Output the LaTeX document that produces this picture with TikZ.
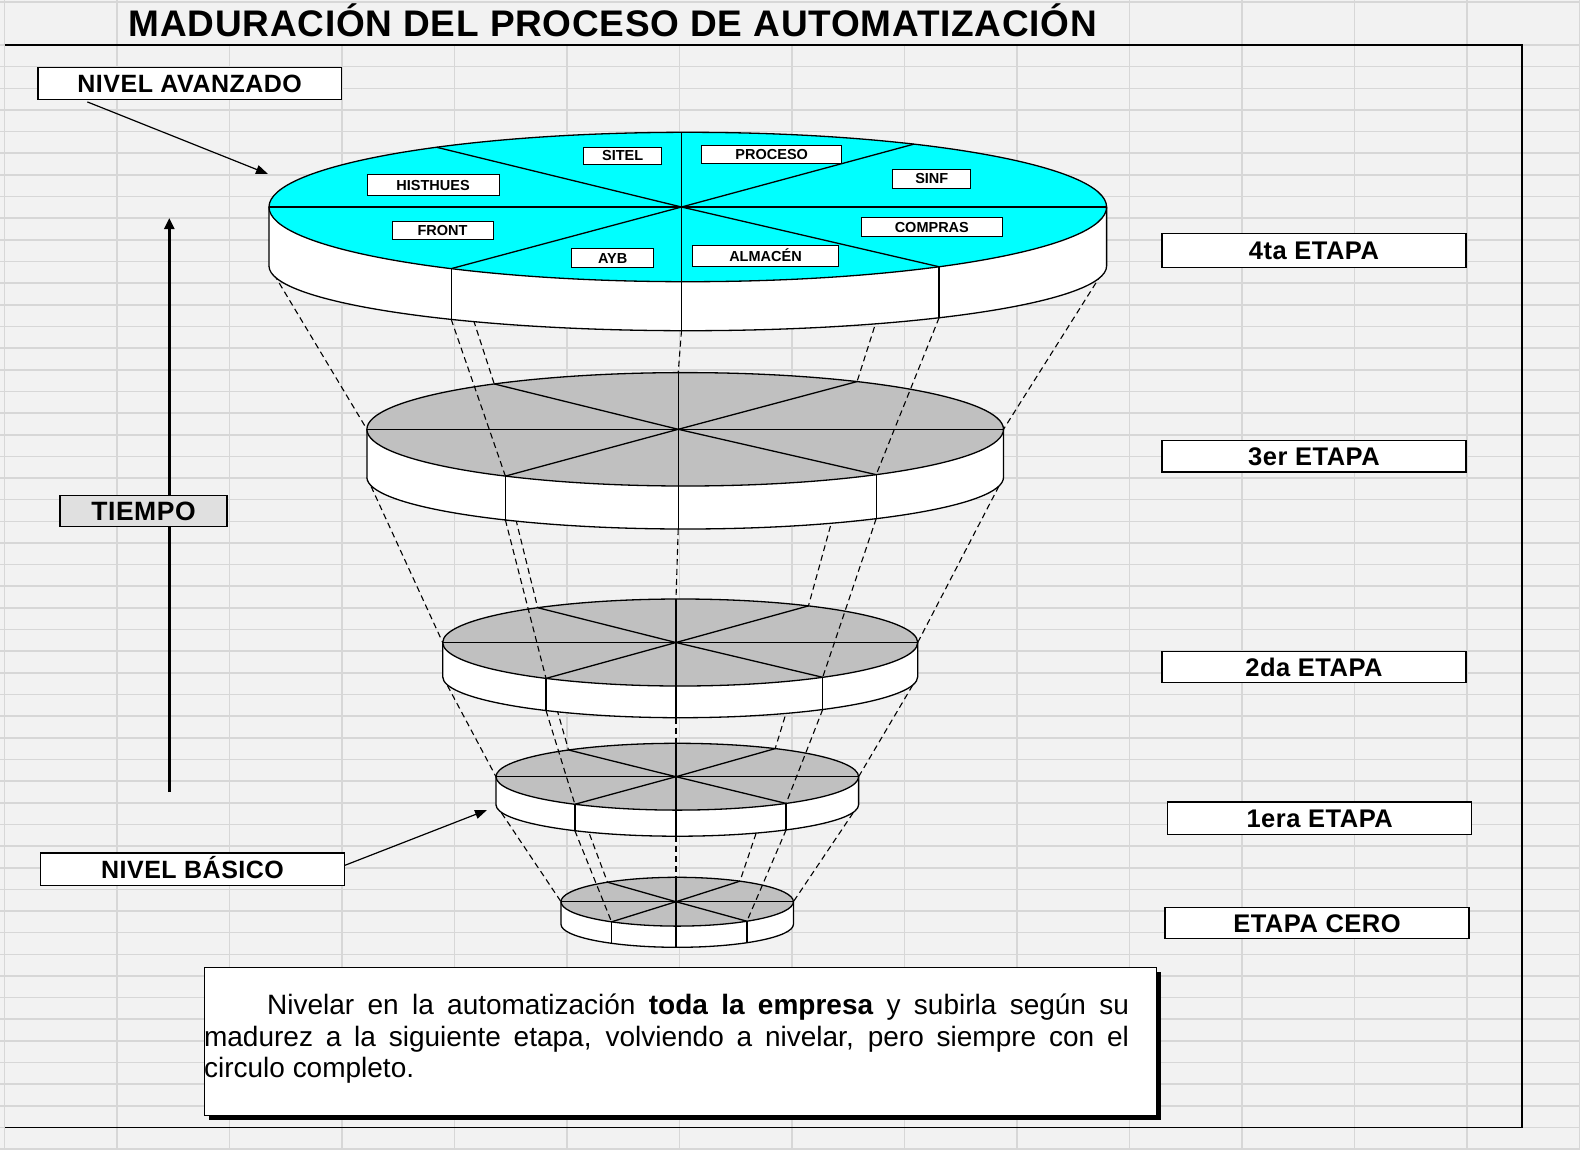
\documentclass[tikz,border=0pt]{standalone}
\usepackage{fontspec}
\setmainfont{Liberation Sans}
\newfontfamily\lbl[LetterSpace=2]{Liberation Sans}
\newfontfamily\ttl[LetterSpace=2]{Liberation Sans}
\usetikzlibrary{calc,arrows.meta}
\definecolor{bgc}{HTML}{F2F2F2}
\definecolor{gridc}{HTML}{D7D7D7}
\definecolor{cyanc}{HTML}{00FFFF}
\definecolor{grayc}{HTML}{C0C0C0}
\definecolor{tiempoc}{HTML}{E0E0E0}

% #1 name, #2 cx, #3 cy, #4 rx, #5 ry, #6 side height, #7 bottom y-radius, #8 spoke centre x
\newcommand\discdef[8]{%
  \coordinate (#1c) at (#2,#3);
  \coordinate (#1b) at (#2,#3+#6);
  \coordinate (#1L) at (#2-#4,#3);
  \coordinate (#1R) at (#2+#4,#3);
  \coordinate (#1Lb) at (#2-#4,#3+#6);
  \coordinate (#1Rb) at (#2+#4,#3+#6);
  \coordinate (#1S) at (#8,#3);
  \coordinate (#1T) at (#8,#3-#5);
  \coordinate (#1B) at (#8,#3+#6+#7);
  \coordinate (#1UL) at ($(#1c)+(233.13:#4 and #5)$);
  \coordinate (#1UR) at ($(#1c)+(302.68:#4 and #5)$);
  \coordinate (#1LL) at ($(#1c)+(124.4:#4 and #5)$);
  \coordinate (#1LR) at ($(#1c)+(53.13:#4 and #5)$);
  \coordinate (#1ULb) at ($(#1b)+(233.13:#4 and #5)$);
  \coordinate (#1URb) at ($(#1b)+(302.68:#4 and #5)$);
  \coordinate (#1LLb) at ($(#1b)+(124.4:#4 and #7)$);
  \coordinate (#1LRb) at ($(#1b)+(53.13:#4 and #7)$);
}
% #1 name, #2 rx, #3 ry, #4 bottom y-radius, #5 fill
\newcommand\discdraw[5]{%
  \draw[discline, fill=white] (#1L) -- (#1Lb) arc[start angle=180, end angle=0, x radius=#2, y radius=#4] -- (#1R) -- cycle;
  \draw[discline, fill=#5] (#1c) ellipse[x radius=#2, y radius=#3];
  \draw[discline] (#1L) -- (#1R);
  \draw[discline] (#1UL) -- (#1S) -- (#1LR);
  \draw[discline] (#1UR) -- (#1S) -- (#1LL);
  \draw[discline] (#1T) -- (#1B);
  \draw[discline] (#1LL) -- (#1LLb);
  \draw[discline] (#1LR) -- (#1LRb);
}
% dashed links from upper disc #1 to lower disc #2
\newcommand\discjoin[2]{%
  \draw[dashline] (#1Lb) -- (#2L);
  \draw[dashline] (#1Rb) -- (#2R);
  \draw[dashline] (#1ULb) -- (#2UL);
  \draw[dashline] (#1URb) -- (#2UR);
  \draw[dashline] (#1LLb) -- (#2LL);
  \draw[dashline] (#1LRb) -- (#2LR);
  \draw[dashline] (#1B) -- (#2T);
}

\begin{document}
\begin{tikzpicture}[x=1pt,y=-1pt,
  gridline/.style={gridc, line width=1.6pt},
  frameline/.style={black, line width=1.5pt},
  discline/.style={black, line width=1.3pt, line join=round},
  dashline/.style={black, line width=1.1pt, dash pattern=on 6pt off 4pt},
  boxlabel/.style={draw, fill=white, line width=1.2pt, inner sep=0pt,
     font=\lbl\bfseries\fontsize{25}{27}\selectfont, text height=17.9pt, text depth=0pt},
  stagelabel/.style={draw, fill=white, line width=1.2pt, inner sep=0pt, minimum width=304pt,
     font=\lbl\bfseries\fontsize{25.5}{27}\selectfont, text height=18.3pt, text depth=0pt},
  dlab/.style={draw, fill=white, line width=1pt, inner sep=0pt,
     font=\bfseries\fontsize{14.5}{14.5}\selectfont, text height=10.4pt, text depth=0pt},
  arr/.style={line width=1.2pt, -{Triangle[length=12pt,width=9pt]}},
  tarr/.style={line width=2.6pt, -{Triangle[length=11pt,width=10pt]}},
  notefont/.style={font=\fontsize{28}{31.5}\selectfont}
]
\useasboundingbox (0,0) rectangle (1580,1149);
% ---- spreadsheet background ----
\fill[bgc] (0,0) rectangle (1580,1149);
\draw[gridline] (0,2) -- (1580,2);
\foreach \j in {0,...,51} \draw[gridline] (0,45+21.65*\j) -- (1580,45+21.65*\j);
\foreach \k in {0,1,10,11,12,13,14} \draw[gridline] (4.5+112.5*\k,0) -- (4.5+112.5*\k,1149);
\foreach \k in {2,...,9} \draw[gridline] (4.5+112.5*\k,45) -- (4.5+112.5*\k,1149);
% ---- frame and title ----
\draw[frameline] (4.5,45) -- (1522,45) -- (1522,1127.5) -- (4.5,1127.5);
\node[anchor=base, inner sep=0pt, font=\ttl\bfseries\fontsize{37}{39}\selectfont] (title) at (613,36.5)
  {MADURACIÓN DEL PROCESO DE AUTOMATIZACIÓN};

% ---- disc geometry ----
\discdef{D4}{687.8}{207}{418.8}{74.7}{59}{64.7}{681.5}
\discdef{D3}{685.2}{429.3}{318.3}{56.7}{48}{51.7}{678.2}
\discdef{D2}{680.2}{642.5}{237.5}{43.5}{34.2}{41}{676}
\discdef{D1}{677.3}{776.7}{181.3}{33.4}{28}{31.5}{676}
\discdef{D0}{677.2}{901.7}{116.2}{24.4}{22.6}{23}{676}

% ---- discs, bottom to top, with dashed links ----
\discdraw{D0}{116.2}{24.4}{23}{grayc}
\discjoin{D1}{D0}
\discdraw{D1}{181.3}{33.4}{31.5}{grayc}
\discjoin{D2}{D1}
\discdraw{D2}{237.5}{43.5}{41}{grayc}
\discjoin{D3}{D2}
\discdraw{D3}{318.3}{56.7}{51.7}{grayc}
\discjoin{D4}{D3}
\discdraw{D4}{418.8}{74.7}{64.7}{cyanc}

% ---- labels on the top disc ----
\node[dlab, minimum width=78pt, minimum height=16.7pt] (sitel) at (622.7,155.7) {SITEL};
\node[dlab, minimum width=140pt, minimum height=18pt] (proceso) at (771.7,154.7) {PROCESO};
\node[dlab, minimum width=132pt, minimum height=21.4pt] (histhues) at (433.1,185) {HISTHUES};
\node[dlab, minimum width=78pt, minimum height=19.3pt] (sinf) at (931.8,178.7) {SINF};
\node[dlab, minimum width=101pt, minimum height=18pt] (front) at (442.5,230) {FRONT};
\node[dlab, minimum width=140.5pt, minimum height=19.4pt] (compras) at (931.8,227) {COMPRAS};
\node[dlab, minimum width=81.5pt, minimum height=18.3pt] (ayb) at (612.7,257.9) {AYB};
\node[dlab, minimum width=145.4pt, minimum height=21.4pt] (almacen) at (765.5,256) {ALMACÉN};

% ---- left side labels and arrows ----
\coordinate (tBot) at (169.3,792);
\coordinate (tTop) at (169.3,218);
\draw[tarr] (tBot) -- (tTop);
\node[boxlabel, fill=tiempoc, minimum width=167pt, minimum height=31pt,
      font=\lbl\bfseries\fontsize{26.5}{28}\selectfont, text height=19pt] (tiempo) at (143.5,511.2) {TIEMPO};

\node[boxlabel, minimum width=303.5pt, minimum height=32pt] (avz) at (189.7,83.3) {NIVEL AVANZADO};
\coordinate (avzTip) at (268,174);
\draw[arr] ($(avz.south west)+(50,2)$) -- (avzTip);

\node[boxlabel, minimum width=303.6pt, minimum height=32.7pt] (bas) at (192.5,869.3) {NIVEL BÁSICO};
\coordinate (basTip) at (487,810);
\draw[arr] ($(bas.east)+(0,-4)$) -- (basTip);

% ---- stage labels ----
\node[stagelabel, minimum height=33.5pt] (e4) at (1313.9,250.5) {4ta ETAPA};
\node[stagelabel, minimum height=31.6pt] (e3) at (1314,456.2) {3er ETAPA};
\node[stagelabel, minimum height=31.2pt] (e2) at (1314,667.2) {2da ETAPA};
\node[stagelabel, minimum height=32.3pt] (e1) at (1319.7,818.2) {1era ETAPA};
\node[stagelabel, minimum height=31pt] (e0) at (1317,923) {ETAPA CERO};

% ---- note box ----
\fill[black] (209,972) rectangle (1161,1120);
\node[draw, fill=white, line width=1.3pt, anchor=north west, inner sep=0pt,
      minimum width=952pt, minimum height=148.3pt] (note) at (203.9,966.7) {};
\node[notefont, anchor=base west, inner sep=0pt] (l1) at (267,1014.7)
  {\makebox[861.8pt][s]{Nivelar en la automatización \textbf{toda la empresa} y subirla según su}};
\node[notefont, anchor=base west, inner sep=0pt] (l2) at (203.9,1046.2)
  {\makebox[924.9pt][s]{madurez a la siguiente etapa, volviendo a nivelar, pero siempre con el}};
\node[notefont, anchor=base west, inner sep=0pt] (l3) at (203.9,1077.7)
  {circulo completo.};
\end{tikzpicture}
\end{document}
